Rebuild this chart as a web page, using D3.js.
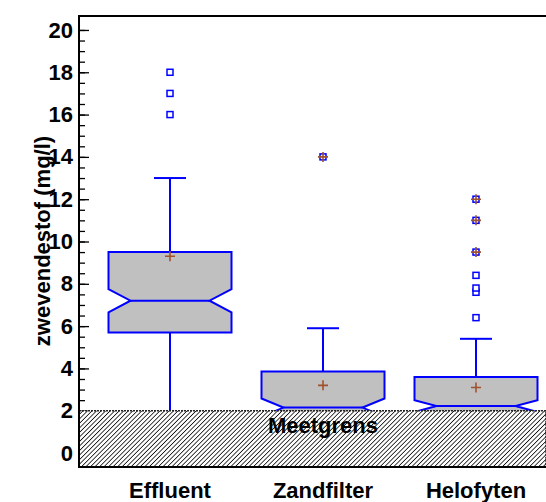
<!DOCTYPE html>
<html>
<head>
<meta charset="utf-8">
<script src="https://cdn.jsdelivr.net/npm/d3@7"></script>
<style>
  body { margin: 0; background: #fff; }
  svg { display: block; font-family: "Liberation Sans", Arial, sans-serif; font-weight: bold; }
  .tick text { font-size: 22px; font-weight: bold; fill: #000; }
  .axis path { display: none; }
  .axis line { stroke: #000; stroke-width: 1.3; }
</style>
</head>
<body>
<svg id="chart" width="546" height="502"></svg>
<script>
// categories and box statistics (mg/l)
const categories = ["Effluent", "Zandfilter", "Helofyten"];
const q1 = [5.7, 1.2, 1.5];
const median = [7.2, 2.15, 2.22];
const q3 = [9.5, 3.85, 3.6];
const notchHalf = [0.55, 0.43, 0.28];
const whiskerLow = [1.0, 1.0, 1.0];
const whiskerHigh = [13, 5.9, 5.4];
const means = [9.3, 3.2, 3.1];
const outliers = [[16, 17, 18], [14], [6.4, 7.6, 7.8, 8.4, 9.5, 11, 12]];
const farOutliers = [[], [14], [9.5, 11, 12]];
const detectionLimit = 2;
const majorTicks = d3.range(0, 21, 2);
const minorTicks = d3.range(0, 20.01, 0.5);

const svg = d3.select("#chart");
const plotLeft = 79, plotRight = 546, plotTop = 16, plotBottom = 467;

const y = d3.scaleLinear().domain([-0.66, 20.66]).range([plotBottom, plotTop]);
const x = d3.scalePoint().domain(categories).range([170, 476]);
const boxHalf = 61.5, notchIn = 22, capHalf = 16;

// hatch pattern
const defs = svg.append("defs");
const pat = defs.append("pattern")
    .attr("id", "hatch")
    .attr("patternUnits", "userSpaceOnUse")
    .attr("width", 3.2).attr("height", 3.2)
    .attr("patternTransform", "rotate(45)");
pat.append("rect").attr("width", 3.2).attr("height", 3.2).attr("fill", "#fff");
pat.append("line")
    .attr("x1", 0).attr("y1", 0).attr("x2", 0).attr("y2", 3.2)
    .attr("stroke", "#000").attr("stroke-width", 1.5);

// minor ticks
svg.append("g")
    .attr("class", "axis")
    .attr("transform", `translate(${plotLeft},0)`)
    .call(d3.axisLeft(y).tickValues(minorTicks).tickSize(-6).tickFormat(""));

// major ticks with labels
svg.append("g")
    .attr("class", "axis")
    .attr("transform", `translate(${plotLeft},0)`)
    .call(d3.axisLeft(y).tickValues(majorTicks).tickSizeInner(-10).tickSizeOuter(0).tickPadding(6));

// boxes
categories.forEach(function (c, i) {
    let cx = x(c);
    let g = svg.append("g");

    // whiskers
    g.append("line")
        .attr("x1", cx).attr("x2", cx)
        .attr("y1", y(q3[i])).attr("y2", y(whiskerHigh[i]))
        .attr("stroke", "#0000ff").attr("stroke-width", 2);
    g.append("line")
        .attr("x1", cx - capHalf).attr("x2", cx + capHalf)
        .attr("y1", y(whiskerHigh[i])).attr("y2", y(whiskerHigh[i]))
        .attr("stroke", "#0000ff").attr("stroke-width", 2);
    g.append("line")
        .attr("x1", cx).attr("x2", cx)
        .attr("y1", y(q1[i])).attr("y2", y(whiskerLow[i]))
        .attr("stroke", "#0000ff").attr("stroke-width", 2);

    // notched box
    let xl = cx - boxHalf, xr = cx + boxHalf;
    let pts = [
        [xl, y(q3[i])], [xr, y(q3[i])],
        [xr, y(median[i] + notchHalf[i])], [xr - notchIn, y(median[i])],
        [xr, y(median[i] - notchHalf[i])], [xr, y(q1[i])],
        [xl, y(q1[i])], [xl, y(median[i] - notchHalf[i])],
        [xl + notchIn, y(median[i])], [xl, y(median[i] + notchHalf[i])]
    ];
    g.append("path")
        .attr("d", d3.line()(pts) + "Z")
        .attr("fill", "#c0c0c0").attr("stroke", "#0000ff").attr("stroke-width", 2);
    g.append("line")
        .attr("x1", xl + notchIn).attr("x2", xr - notchIn)
        .attr("y1", y(median[i])).attr("y2", y(median[i]))
        .attr("stroke", "#0000ff").attr("stroke-width", 2);

    // mean marker
    g.append("path")
        .attr("d", `M${cx - 5},${y(means[i])}H${cx + 5}M${cx},${y(means[i]) - 5}V${y(means[i]) + 5}`)
        .attr("stroke", "#a0522d").attr("stroke-width", 1.6);

    // outliers
    g.selectAll(".out")
        .data(outliers[i])
        .enter()
        .append("rect")
        .attr("x", cx - 3).attr("y", d => y(d) - 3)
        .attr("width", 6).attr("height", 6)
        .attr("fill", "#fff").attr("stroke", "#0000ff").attr("stroke-width", 1.5);
    g.selectAll(".far")
        .data(farOutliers[i])
        .enter()
        .append("path")
        .attr("d", d => `M${cx - 5},${y(d)}H${cx + 5}M${cx},${y(d) - 5}V${y(d) + 5}`)
        .attr("stroke", "#a0522d").attr("stroke-width", 1.6);
});

// detection limit region
svg.append("rect")
    .attr("x", plotLeft).attr("y", y(detectionLimit))
    .attr("width", plotRight - plotLeft).attr("height", plotBottom - y(detectionLimit))
    .attr("fill", "url(#hatch)")
    .attr("stroke", "#222").attr("stroke-width", 1.6).attr("stroke-dasharray", "2,1");
svg.append("text")
    .attr("x", x(categories[1])).attr("y", y(1.2))
    .attr("text-anchor", "middle").attr("dominant-baseline", "middle")
    .attr("font-size", 22).attr("fill", "#000")
    .text("Meetgrens");

// frame
svg.append("path")
    .attr("d", `M${plotRight},${plotTop}H${plotLeft}V${plotBottom}H${plotRight}`)
    .attr("fill", "none").attr("stroke", "#000").attr("stroke-width", 2);

// category labels
svg.selectAll(".cat")
    .data(categories)
    .enter()
    .append("text")
    .attr("x", d => x(d)).attr("y", 498)
    .attr("text-anchor", "middle")
    .attr("font-size", 22)
    .text(d => d);

// y title
svg.append("text")
    .attr("transform", "translate(50,241) rotate(-90)")
    .attr("text-anchor", "middle")
    .attr("font-size", 22)
    .text("zwevendestof (mg/l)");
</script>
</body>
</html>
